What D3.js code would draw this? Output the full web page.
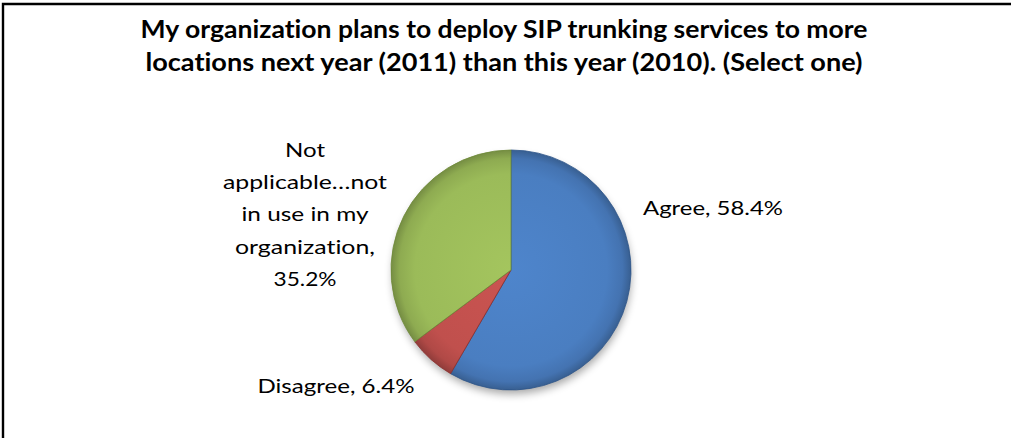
<!DOCTYPE html>
<html>
<head>
<meta charset="utf-8">
<script src="https://cdn.jsdelivr.net/npm/d3@7"></script>
<style>
  html, body { margin: 0; padding: 0; background: #fff; }
  svg { display: block; }
  text { font-variant-ligatures: none; font-feature-settings: "liga" 0, "clig" 0; }
</style>
</head>
<body>
<svg id="chart" width="1011" height="438"></svg>
<script>
// Survey responses
const categories = ["Agree", "Disagree", "Not applicable…not in use in my organization"];
const shares = [58.4, 6.4, 35.2];
const labelLines = [
  ["Agree, 58.4%"],
  ["Disagree, 6.4%"],
  ["Not", "applicable…not", "in use in my", "organization,", "35.2%"]
];
const titleLines = [
  "My organization plans to deploy SIP trunking services to more",
  "locations next year (2011) than this year (2010). (Select one)"
];

const W = 1011, H = 438;
const FONT = "Lato, 'Liberation Sans', sans-serif";
const svg = d3.select("#chart");
const defs = svg.append("defs");

// Frame (left and top edges)
svg.append("path")
  .attr("d", `M3,${H} V4 H${W}`)
  .attr("fill", "none")
  .attr("stroke", "#000")
  .attr("stroke-width", 2.4);

// Squeeze letter spacing so a line spans the given width
function fitWidth(node, target) {
  const w = node.getComputedTextLength();
  if (Math.abs(w - target) > 1) {
    d3.select(node).attr("textLength", target).attr("lengthAdjust", "spacingAndGlyphs");
  }
}

// Title
const titleWidths = [727, 717];
const titleBase = [38, 71];
titleLines.forEach((t, i) => {
  const el = svg.append("text")
    .attr("x", 504)
    .attr("y", titleBase[i])
    .attr("text-anchor", "middle")
    .attr("font-family", FONT)
    .attr("font-weight", "bold")
    .attr("font-size", 24.5)
    .attr("fill", "#000")
    .text(t);
  fitWidth(el.node(), titleWidths[i]);
});

// Pie
const cx = 511, cy = 270, R = 120;
const colors = d3.scaleOrdinal().domain(categories).range(["#4a7ec1", "#c0504d", "#9bbb59"]);
const edgeColors = d3.scaleOrdinal().domain(categories).range(["#2c5489", "#8c2f2d", "#6f8a38"]);

const pie = d3.pie().sort(null).value(d => d.v);
const arcs = pie(categories.map((c, i) => ({ c, v: shares[i] })));
const arcGen = d3.arc().innerRadius(0).outerRadius(R);

// Soft drop shadow under the pie
const shadow = defs.append("filter").attr("id", "shadow")
  .attr("x", "-30%").attr("y", "-30%").attr("width", "160%").attr("height", "160%");
shadow.append("feGaussianBlur").attr("stdDeviation", 4);

const g = svg.append("g").attr("transform", `translate(${cx},${cy})`);
g.append("circle")
  .attr("cx", 1).attr("cy", 5).attr("r", R - 1)
  .attr("fill", "#000").attr("opacity", 0.35)
  .attr("filter", "url(#shadow)");

// Shaded fill for each slice: flat body, darker towards the rim
categories.forEach((c, i) => {
  const base = d3.color(colors(c));
  const gr = defs.append("radialGradient")
    .attr("id", "grad" + i)
    .attr("gradientUnits", "userSpaceOnUse")
    .attr("cx", 0).attr("cy", 0).attr("r", R);
  gr.append("stop").attr("offset", "0%").attr("stop-color", base.brighter(0.15));
  gr.append("stop").attr("offset", "80%").attr("stop-color", base.formatHex());
  gr.append("stop").attr("offset", "93%").attr("stop-color", base.darker(0.25));
  gr.append("stop").attr("offset", "100%").attr("stop-color", base.darker(0.8));
});

g.selectAll("path.slice")
  .data(arcs)
  .join("path")
  .attr("class", "slice")
  .attr("d", arcGen)
  .attr("fill", (d, i) => `url(#grad${i})`)
  .attr("stroke", d => edgeColors(d.data.c))
  .attr("stroke-width", 0.8)
  .attr("stroke-linejoin", "round");

// Data labels
const labelPos = [
  { x: 643, y: 215, anchor: "start", widths: [140] },
  { x: 336, y: 393, anchor: "middle", widths: [157] },
  { x: 305, y: 157, anchor: "middle", widths: [40, 164, 127, 140, 63], step: 32.2 }
];
labelLines.forEach((lines, i) => {
  const p = labelPos[i];
  const t = svg.append("text")
    .attr("font-family", FONT)
    .attr("font-size", 20)
    .attr("fill", "#000")
    .attr("text-anchor", p.anchor);
  lines.forEach((ln, j) => {
    const ts = t.append("tspan")
      .attr("x", p.x)
      .attr("y", p.y + j * (p.step || 0))
      .text(ln);
    fitWidth(ts.node(), p.widths[j]);
  });
});
</script>
</body>
</html>
